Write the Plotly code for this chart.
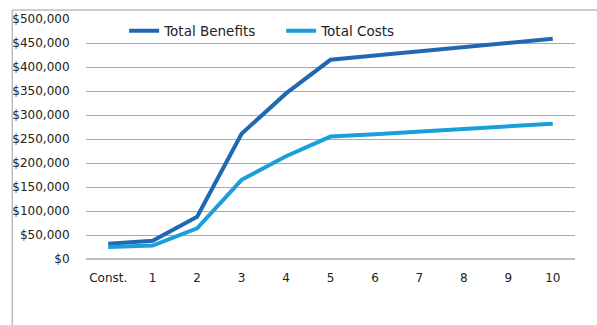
import plotly.graph_objects as go

years = ["Const.", "1", "2", "3", "4", "5", "6", "7", "8", "9", "10"]
total_benefits = [32000, 38000, 88000, 261000, 345000, 415000, 424000, 433000, 441000, 450000, 459000]
total_costs = [25000, 28000, 64000, 165000, 214000, 255000, 260000, 266000, 271000, 277000, 282000]
y_ticks = list(range(0, 500001, 50000))
y_tick_text = ["$0"] + [f"${v:,}" for v in y_ticks[1:]]

fig = go.Figure()
fig.add_trace(go.Scatter(x=years, y=total_benefits, mode="lines", name="Total Benefits",
                         line=dict(color="#1F69B3", width=4)))
fig.add_trace(go.Scatter(x=years, y=total_costs, mode="lines", name="Total Costs",
                         line=dict(color="#1A9FDB", width=4)))

frame = "#BDBDBD"
fig.update_layout(
    width=597, height=325,
    margin=dict(l=84, r=22, t=16, b=66),
    paper_bgcolor="white", plot_bgcolor="white",
    font=dict(family="DejaVu Sans", size=12, color="#222222"),
    showlegend=True,
    legend=dict(orientation="h", x=0.078, xanchor="left", y=0.95, yanchor="middle",
                bgcolor="rgba(0,0,0,0)", itemwidth=30, font=dict(size=13.5),
                entrywidth=112, entrywidthmode="pixels", tracegroupgap=0),
    xaxis=dict(type="category", showgrid=False, showline=False, zeroline=False,
               ticks="outside", ticklen=8, tickcolor="rgba(0,0,0,0)",
               range=[-0.5, 10.5], fixedrange=True),
    yaxis=dict(range=[0, 500000], tickvals=y_ticks, ticktext=y_tick_text,
               showgrid=True, gridcolor="#A8A8A8", gridwidth=1.3,
               zeroline=False, showline=False,
               ticks="outside", ticklen=13, tickcolor="rgba(0,0,0,0)"),
    shapes=[
        dict(type="line", xref="paper", yref="paper", x0=0, x1=1, y0=0, y1=0,
             line=dict(color="#A8A8A8", width=1.3), layer="below"),
        dict(type="line", xref="paper", yref="paper", x0=-0.1507, x1=-0.1507, y0=-1, y1=1.037,
             line=dict(color=frame, width=1.5)),
        dict(type="line", xref="paper", yref="paper", x0=-0.1507, x1=1.2, y0=1.037, y1=1.037,
             line=dict(color=frame, width=1.5)),
    ],
)

fig.write_html("out.html")
